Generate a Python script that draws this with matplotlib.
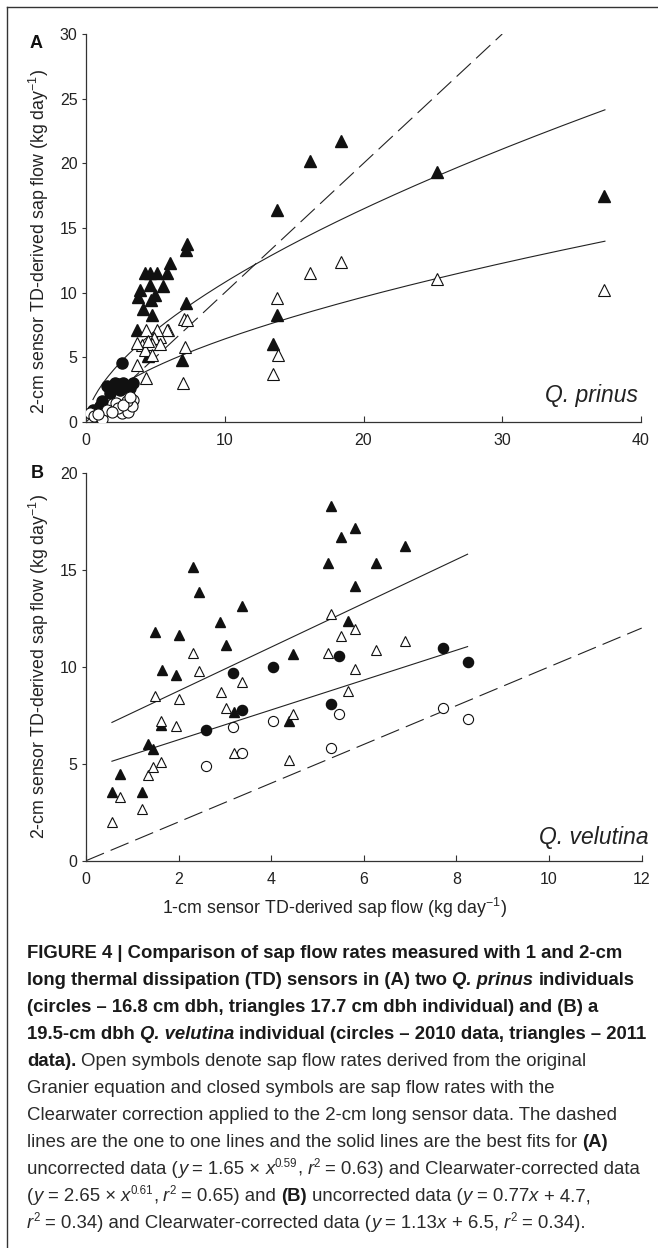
import numpy as np
import matplotlib
matplotlib.use("Agg")
import matplotlib.pyplot as plt
from matplotlib import font_manager
from matplotlib.lines import Line2D

# ---- data ----
# panel A, Q. prinus
a_tri_fill_x = [7.26, 7.21, 6.06, 5.86, 5.14, 4.61, 4.25, 5.53, 4.61, 3.89, 3.77, 4.97, 4.66,
                4.13, 4.73, 7.21, 3.70, 4.50, 6.90, 13.45, 13.78, 13.78, 16.15, 18.38, 25.33, 37.35]
a_tri_fill_y = [13.75, 13.3, 12.3, 11.5, 11.55, 11.5, 11.5, 10.5, 10.6, 10.2, 9.7, 9.8, 9.45,
                8.75, 8.3, 9.2, 7.1, 5.1, 4.8, 6.0, 8.3, 16.4, 20.2, 21.7, 19.3, 17.5]
a_tri_open_x = [16.15, 18.38, 25.33, 37.35, 13.73, 13.83, 13.45, 7.02, 7.14, 7.05, 7.3, 5.94, 5.83,
                5.34, 5.11, 4.87, 4.75, 4.33, 4.01, 3.66, 4.25, 4.73, 3.65, 4.33, 4.5, 5.3]
a_tri_open_y = [11.55, 12.35, 11.03, 10.2, 9.55, 5.2, 3.75, 3.0, 5.8, 8.0, 7.9, 7.1, 7.15,
                6.6, 7.15, 6.5, 6.0, 7.1, 5.96, 6.1, 5.57, 5.18, 4.4, 3.4, 6.3, 6.0]
a_circ_fill_x = [2.58, 2.1, 1.5, 2.7, 3.42, 1.73, 1.13, 0.53, 2.46, 3.18, 1.98, 2.82, 1.0, 0.7, 2.3]
a_circ_fill_y = [4.6, 3.0, 2.75, 3.0, 3.0, 2.25, 1.6, 0.95, 2.5, 2.6, 2.6, 2.75, 1.2, 0.8, 2.9]
a_circ_open_x = [0.29, 0.6, 1.13, 1.5, 2.17, 2.58, 3.06, 3.42, 3.3, 2.34, 2.94, 1.86, 2.7, 0.9, 3.2]
a_circ_open_y = [0.7, 0.45, 0.2, 0.95, 1.45, 0.7, 0.8, 1.7, 1.2, 1.1, 1.6, 0.8, 1.35, 0.6, 1.9]

# panel B, Q. velutina
b_tri_fill_x = [0.56, 0.74, 1.22, 1.34, 1.45, 1.65, 1.94, 1.63, 3.02, 3.2, 4.39, 4.46, 1.5, 2.0,
                2.3, 2.43, 3.37, 2.89, 5.29, 5.5, 5.81, 6.88, 5.23, 6.26, 5.81, 5.65]
b_tri_fill_y = [3.52, 4.48, 3.53, 6.03, 5.78, 9.83, 9.57, 7.02, 11.15, 7.66, 7.19, 10.64, 11.81, 11.64,
                15.17, 13.84, 13.16, 12.33, 18.31, 16.72, 17.16, 16.24, 15.38, 15.34, 14.19, 12.36]
b_tri_open_x = [5.29, 5.5, 5.81, 6.88, 5.23, 6.26, 5.81, 5.65, 0.56, 0.74, 1.22, 1.34, 1.45, 1.63,
                1.63, 1.49, 2.0, 1.94, 2.3, 2.43, 2.91, 3.02, 3.37, 3.2, 4.39, 4.46]
b_tri_open_y = [12.72, 11.6, 11.93, 11.33, 10.74, 10.86, 9.88, 8.76, 2.02, 3.28, 2.67, 4.4, 4.81, 5.09,
                7.19, 8.48, 8.36, 6.97, 10.69, 9.81, 8.71, 7.88, 9.22, 5.55, 5.17, 7.59]
b_circ_fill_x = [2.59, 3.17, 3.37, 4.03, 5.28, 5.46, 7.7, 8.24]
b_circ_fill_y = [6.76, 9.66, 7.76, 10.0, 8.07, 10.55, 10.98, 10.24]
b_circ_open_x = [2.59, 3.17, 3.37, 4.03, 5.28, 5.46, 7.7, 8.24]
b_circ_open_y = [4.9, 6.9, 5.55, 7.19, 5.83, 7.55, 7.88, 7.33]

# fits given in the caption
a_fit_coef = [(1.65, 0.59), (2.65, 0.61)]   # y = a * x^b
a_fit_range = (0.5, 37.4)
b_fit_coef = [(0.77, 4.7), (1.13, 6.5)]     # y = m*x + c
b_fit_range = (0.56, 8.24)

ylab = r"2-cm sensor TD-derived sap flow (kg day$^{-1}$)"
xlab = r"1-cm sensor TD-derived sap flow (kg day$^{-1}$)"

# ---- fonts ----
names = {f.name for f in font_manager.fontManager.ttflist}
plt.rcParams["font.family"] = ["Liberation Sans", "DejaVu Sans"]
plt.rcParams["mathtext.fontset"] = "custom"
plt.rcParams["mathtext.rm"] = "Liberation Sans"
plt.rcParams["mathtext.it"] = "Liberation Sans:italic"
plt.rcParams["mathtext.bf"] = "Liberation Sans:bold"
narrow = "Liberation Sans Narrow" if "Liberation Sans Narrow" in names else "Liberation Sans"

W, H = 658, 1248
fig = plt.figure(figsize=(W / 100, H / 100), dpi=100)
INK = "#222222"


def px_axes(l, t, r, b):
    return fig.add_axes([l / W, 1 - b / H, (r - l) / W, (b - t) / H])


def style_axes(ax):
    for s in ["top", "right"]:
        ax.spines[s].set_visible(False)
    for s in ["left", "bottom"]:
        ax.spines[s].set_color("#333333")
        ax.spines[s].set_linewidth(0.9)
    ax.tick_params(axis="y", direction="out", length=3, width=0.8, pad=3,
                   labelsize=11.5, colors="#333333", labelcolor=INK)
    ax.tick_params(axis="x", direction="in", length=4.3, width=0.8, pad=8,
                   labelsize=11.5, colors="#333333", labelcolor=INK)


dash = (0, (17.5, 6.5))

# ---- panel A ----
ax = px_axes(86, 34, 641, 422)
style_axes(ax)
xx = np.linspace(a_fit_range[0], a_fit_range[1], 300)
for a, b in a_fit_coef:
    ax.plot(xx, a * xx ** b, color=INK, lw=0.8, zorder=2)
ax.plot([0, 30], [0, 30], color=INK, lw=0.8, ls=dash, zorder=2)
ax.plot(a_tri_fill_x, a_tri_fill_y, "^", ms=8.2, color="#111111", mec="#111111", zorder=3)
ax.plot(a_tri_open_x, a_tri_open_y, "^", ms=8.2, mfc="white", mec="#111111", mew=0.8, zorder=4)
ax.plot(a_circ_fill_x, a_circ_fill_y, "o", ms=8.0, color="#111111", mec="#111111", zorder=3)
ax.plot(a_circ_open_x, a_circ_open_y, "o", ms=8.0, mfc="white", mec="#111111", mew=0.8, zorder=4)
ax.set_xlim(0, 40)
ax.set_ylim(0, 30)
ax.set_xticks([0, 10, 20, 30, 40])
ax.set_yticks([0, 5, 10, 15, 20, 25, 30])

# ---- panel B ----
bx = px_axes(86, 473, 641.7, 860.7)
style_axes(bx)
xx = np.linspace(b_fit_range[0], b_fit_range[1], 50)
for m, c in b_fit_coef:
    bx.plot(xx, m * xx + c, color=INK, lw=0.8, zorder=2)
bx.plot([0, 12], [0, 12], color=INK, lw=0.8, ls=dash, zorder=2)
bx.plot(b_tri_fill_x, b_tri_fill_y, "^", ms=7.9, color="#111111", mec="#111111", zorder=3)
bx.plot(b_tri_open_x, b_tri_open_y, "^", ms=7.9, mfc="white", mec="#111111", mew=0.8, zorder=4)
bx.plot(b_circ_fill_x, b_circ_fill_y, "o", ms=7.3, color="#111111", mec="#111111", zorder=3)
bx.plot(b_circ_open_x, b_circ_open_y, "o", ms=7.3, mfc="white", mec="#111111", mew=0.8, zorder=4)
bx.set_xlim(0, 12)
bx.set_ylim(0, 20)
bx.set_xticks([0, 2, 4, 6, 8, 10, 12])
bx.set_yticks([0, 5, 10, 15, 20])

# ---- labels ----
def ftext(x, y, s, **kw):
    return fig.text(x / W, 1 - y / H, s, **kw)

ftext(39, 241, ylab, rotation=90, ha="center", va="center", fontsize=12.8, color=INK)
ftext(39, 666, ylab, rotation=90, ha="center", va="center", fontsize=12.8, color=INK)
ftext(335, 908, xlab, ha="center", va="center", fontsize=12.8, color=INK)
ftext(30, 48, "A", fontsize=13, fontweight="bold", color="#111111", va="baseline")
ftext(31, 478, "B", fontsize=13, fontweight="bold", color="#111111", va="baseline")
ftext(638, 402, "Q. prinus", fontsize=16.5, style="italic", ha="right", va="baseline", color=INK)
ftext(649, 844, "Q. velutina", fontsize=16.5, style="italic", ha="right", va="baseline", color=INK)

# page frame (top and left rule)
fig.add_artist(Line2D([7 / W, 1], [1 - 7 / H, 1 - 7 / H], transform=fig.transFigure,
                      color="#333333", lw=1.0))
fig.add_artist(Line2D([7 / W, 7 / W], [1 - 7 / H, 0], transform=fig.transFigure,
                      color="#333333", lw=1.0))

# ---- caption ----
caption = [
    [("FIGURE 4 | Comparison of sap flow rates measured with 1 and 2-cm", "b")],
    [("long thermal dissipation (TD) sensors in (A) two ", "b"), ("Q. prinus", "bi"),
     (" individuals", "b")],
    [("(circles – 16.8 cm dbh, triangles 17.7 cm dbh individual) and (B) a", "b")],
    [("19.5-cm dbh ", "b"), ("Q. velutina", "bi"),
     (" individual (circles – 2010 data, triangles – 2011", "b")],
    [("data).", "b"), (" Open symbols denote sap flow rates derived from the original", "r")],
    [("Granier equation and closed symbols are sap flow rates with the", "r")],
    [("Clearwater correction applied to the 2-cm long sensor data. The dashed", "r")],
    [("lines are the one to one lines and the solid lines are the best fits for ", "r"),
     ("(A)", "b")],
    [("uncorrected data (", "r"), ("y", "i"), (" = 1.65 × ", "r"), ("x", "i"), ("0.59", "s"),
     (", ", "r"), ("r", "i"), ("2", "s"), (" = 0.63) and Clearwater-corrected data", "r")],
    [("(", "r"), ("y", "i"), (" = 2.65 × ", "r"), ("x", "i"), ("0.61", "s"), (", ", "r"),
     ("r", "i"), ("2", "s"), (" = 0.65) and ", "r"), ("(B)", "b"), (" uncorrected data (", "r"),
     ("y", "i"), (" = 0.77", "r"), ("x", "i"), (" + 4.7,", "r")],
    [("r", "i"), ("2", "s"), (" = 0.34) and Clearwater-corrected data (", "r"), ("y", "i"),
     (" = 1.13", "r"), ("x", "i"), (" + 6.5, ", "r"), ("r", "i"), ("2", "s"), (" = 0.34).", "r")],
]

renderer = fig.canvas.get_renderer()


def props(kind, rsize, bsize):
    if kind in ("b", "bi"):
        return dict(family=narrow, fontweight="bold", fontsize=bsize,
                    style="italic" if kind == "bi" else "normal", color="#1a1a1a")
    if kind == "s":
        return dict(family="Liberation Sans", fontsize=rsize * 0.62, color="#2a2a2a")
    return dict(family="Liberation Sans", fontsize=rsize,
                style="italic" if kind == "i" else "normal", color="#2a2a2a")


def width(s, p):
    t = fig.text(0, 0, s, **p)
    w = t.get_window_extent(renderer).width
    t.remove()
    return w


def seg_width(s, p):
    # advance width incl. spaces
    return width("x" + s + "x", p) - width("xx", p)


# calibrate sizes to the measured line widths
bsize = 10 * 595 / seg_width(caption[0][0][0], props("b", 10, 10))
rsize = 10 * 585 / seg_width(caption[7][0][0] + "(A)", props("r", 10, 10))

x0 = 27
y_first, dy = 952, 27.0
for i, line in enumerate(caption):
    base = y_first + i * dy + 6
    x = x0
    for s, kind in line:
        p = props(kind, rsize, bsize)
        yb = base - (rsize * 100 / 72 * 0.38 if kind == "s" else 0)
        body = s.strip(" ")
        lead = len(s) - len(s.lstrip(" "))
        sp = seg_width(" ", p)
        x += lead * sp
        if body:
            ftext(x, yb, body, va="baseline", ha="left", **p)
            x += seg_width(body, p)
        x += (len(s) - lead - len(body)) * sp

fig.savefig("out.png", dpi=100)
